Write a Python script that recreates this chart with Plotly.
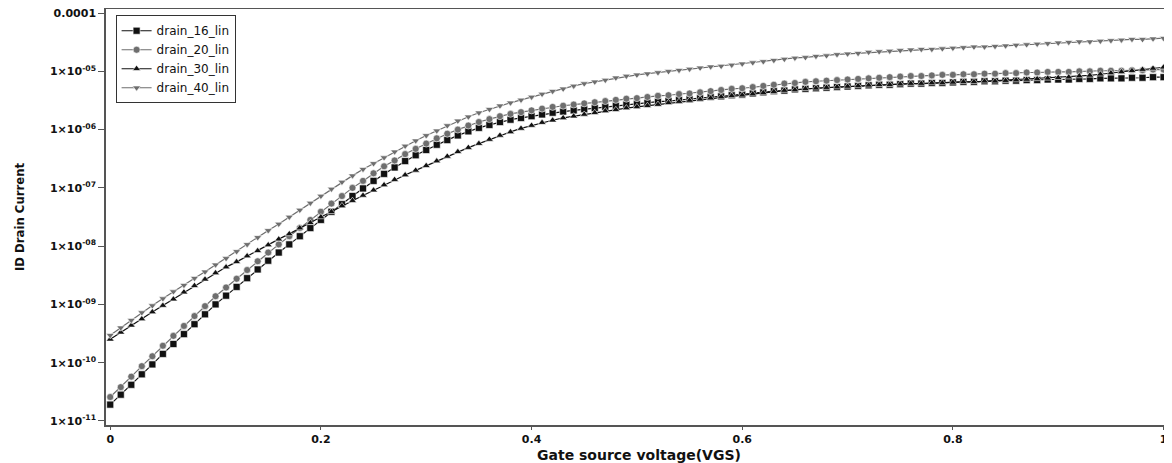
import plotly.graph_objects as go

# Gate-source voltage sweep (V)
vgs = [0.00, 0.01, 0.02, 0.03, 0.04, 0.05, 0.06, 0.07, 0.08, 0.09,
       0.10, 0.11, 0.12, 0.13, 0.14, 0.15, 0.16, 0.17, 0.18, 0.19,
       0.20, 0.21, 0.22, 0.23, 0.24, 0.25, 0.26, 0.27, 0.28, 0.29,
       0.30, 0.31, 0.32, 0.33, 0.34, 0.35, 0.36, 0.37, 0.38, 0.39,
       0.40, 0.41, 0.42, 0.43, 0.44, 0.45, 0.46, 0.47, 0.48, 0.49,
       0.50, 0.51, 0.52, 0.53, 0.54, 0.55, 0.56, 0.57, 0.58, 0.59,
       0.60, 0.61, 0.62, 0.63, 0.64, 0.65, 0.66, 0.67, 0.68, 0.69,
       0.70, 0.71, 0.72, 0.73, 0.74, 0.75, 0.76, 0.77, 0.78, 0.79,
       0.80, 0.81, 0.82, 0.83, 0.84, 0.85, 0.86, 0.87, 0.88, 0.89,
       0.90, 0.91, 0.92, 0.93, 0.94, 0.95, 0.96, 0.97, 0.98, 0.99, 1.00]

# Drain current as log10(ID [A])
log_id_drain_16 = [-10.72, -10.55, -10.38, -10.20, -10.03, -9.85, -9.68, -9.51, -9.34, -9.17,
                   -9.00, -8.85, -8.70, -8.55, -8.40, -8.25, -8.11, -7.97, -7.83, -7.69,
                   -7.55, -7.41, -7.28, -7.14, -7.01, -6.88, -6.76, -6.65, -6.54, -6.44,
                   -6.35, -6.26, -6.18, -6.10, -6.03, -5.97, -5.92, -5.87, -5.83, -5.80,
                   -5.77, -5.74, -5.71, -5.69, -5.67, -5.65, -5.63, -5.61, -5.59, -5.57,
                   -5.56, -5.54, -5.52, -5.51, -5.49, -5.48, -5.46, -5.44, -5.43, -5.41,
                   -5.40, -5.38, -5.36, -5.34, -5.33, -5.31, -5.30, -5.29, -5.28, -5.27,
                   -5.26, -5.25, -5.24, -5.23, -5.23, -5.22, -5.21, -5.21, -5.20, -5.20,
                   -5.19, -5.18, -5.18, -5.17, -5.17, -5.16, -5.16, -5.15, -5.15, -5.14,
                   -5.14, -5.14, -5.13, -5.13, -5.12, -5.12, -5.12, -5.11, -5.11, -5.10, -5.10]

log_id_drain_20 = [-10.59, -10.42, -10.24, -10.06, -9.89, -9.71, -9.54, -9.37, -9.20, -9.03,
                   -8.86, -8.71, -8.56, -8.41, -8.26, -8.11, -7.97, -7.83, -7.69, -7.55,
                   -7.41, -7.27, -7.14, -7.00, -6.88, -6.75, -6.63, -6.53, -6.42, -6.33,
                   -6.24, -6.15, -6.07, -6.00, -5.93, -5.87, -5.82, -5.77, -5.73, -5.70,
                   -5.67, -5.64, -5.61, -5.59, -5.57, -5.55, -5.53, -5.51, -5.49, -5.47,
                   -5.46, -5.44, -5.42, -5.41, -5.39, -5.38, -5.36, -5.34, -5.32, -5.30,
                   -5.29, -5.27, -5.25, -5.23, -5.21, -5.20, -5.18, -5.17, -5.16, -5.15,
                   -5.14, -5.13, -5.12, -5.11, -5.10, -5.09, -5.08, -5.08, -5.07, -5.06,
                   -5.06, -5.05, -5.05, -5.04, -5.04, -5.03, -5.03, -5.02, -5.02, -5.01,
                   -5.01, -5.01, -5.00, -5.00, -4.99, -4.99, -4.99, -4.98, -4.98, -4.97, -4.97]

log_id_drain_30 = [-9.60, -9.48, -9.36, -9.25, -9.13, -9.02, -8.91, -8.79, -8.68, -8.57,
                   -8.46, -8.36, -8.27, -8.17, -8.08, -7.98, -7.88, -7.79, -7.69, -7.60,
                   -7.50, -7.41, -7.31, -7.22, -7.13, -7.04, -6.95, -6.86, -6.78, -6.70,
                   -6.62, -6.54, -6.46, -6.38, -6.31, -6.24, -6.17, -6.10, -6.04, -5.98,
                   -5.93, -5.88, -5.84, -5.80, -5.77, -5.74, -5.71, -5.68, -5.66, -5.63,
                   -5.61, -5.59, -5.57, -5.54, -5.52, -5.50, -5.48, -5.46, -5.44, -5.42,
                   -5.41, -5.39, -5.37, -5.35, -5.33, -5.32, -5.30, -5.29, -5.28, -5.27,
                   -5.26, -5.25, -5.24, -5.23, -5.23, -5.22, -5.21, -5.21, -5.20, -5.20,
                   -5.19, -5.18, -5.18, -5.17, -5.17, -5.16, -5.15, -5.14, -5.13, -5.12,
                   -5.11, -5.10, -5.08, -5.07, -5.05, -5.03, -5.01, -4.99, -4.97, -4.95, -4.93]

log_id_drain_40 = [-9.53, -9.40, -9.27, -9.14, -9.02, -8.90, -8.78, -8.67, -8.55, -8.44,
                   -8.32, -8.21, -8.09, -7.97, -7.85, -7.73, -7.62, -7.50, -7.38, -7.26,
                   -7.14, -7.02, -6.90, -6.79, -6.68, -6.58, -6.48, -6.38, -6.28, -6.19,
                   -6.10, -6.02, -5.93, -5.85, -5.78, -5.71, -5.65, -5.59, -5.54, -5.49,
                   -5.44, -5.39, -5.34, -5.30, -5.25, -5.21, -5.18, -5.15, -5.11, -5.08,
                   -5.06, -5.04, -5.02, -5.00, -4.98, -4.96, -4.94, -4.92, -4.91, -4.89,
                   -4.87, -4.85, -4.83, -4.81, -4.79, -4.77, -4.76, -4.74, -4.73, -4.71,
                   -4.70, -4.69, -4.67, -4.66, -4.65, -4.64, -4.63, -4.62, -4.62, -4.61,
                   -4.60, -4.59, -4.58, -4.58, -4.57, -4.56, -4.55, -4.54, -4.53, -4.52,
                   -4.51, -4.50, -4.49, -4.49, -4.48, -4.47, -4.46, -4.45, -4.45, -4.44, -4.43]

series_names = ["drain_16_lin", "drain_20_lin", "drain_30_lin", "drain_40_lin"]

y_tick_values = [1e-11, 1e-10, 1e-9, 1e-8, 1e-7, 1e-6, 1e-5, 1e-4]
y_tick_labels = ["<b>1×10<sup>-11</sup></b>", "<b>1×10<sup>-10</sup></b>", "<b>1×10<sup>-09</sup></b>",
                 "<b>1×10<sup>-08</sup></b>", "<b>1×10<sup>-07</sup></b>", "<b>1×10<sup>-06</sup></b>",
                 "<b>1×10<sup>-05</sup></b>", "<b>0.0001</b>"]
x_tick_values = [0, 0.2, 0.4, 0.6, 0.8, 1]
x_tick_labels = ["<b>0</b>", "<b>0.2</b>", "<b>0.4</b>", "<b>0.6</b>", "<b>0.8</b>", "<b>1</b>"]
x_title = "<b>Gate source voltage(VGS)</b>"
y_title = "<b>ID Drain Current</b>"

styles = [
    dict(symbol="square", color="#111111", line="#111111"),
    dict(symbol="circle", color="#6e6e6e", line="#6e6e6e"),
    dict(symbol="triangle-up", color="#111111", line="#111111"),
    dict(symbol="triangle-down", color="#6e6e6e", line="#6e6e6e"),
]
all_logs = [log_id_drain_16, log_id_drain_20, log_id_drain_30, log_id_drain_40]

fig = go.Figure()
for name, logs, st in zip(series_names, all_logs, styles):
    fig.add_trace(go.Scatter(
        x=vgs, y=[10 ** v for v in logs], name=name, mode="lines+markers",
        line=dict(color=st["line"], width=1.2),
        marker=dict(symbol=st["symbol"], color=st["color"], size=7,
                    line=dict(color="white", width=0.6)),
    ))

# page body has an 8px default margin: figure origin sits at (8, 8) in the window
fig.update_layout(
    width=1164, height=455,
    margin=dict(l=98, r=0, t=1, b=38, autoexpand=False),
    paper_bgcolor="white", plot_bgcolor="white",
    font=dict(family="DejaVu Sans", color="#111111"),
    showlegend=True,
    legend=dict(x=0.009, y=0.985, xanchor="left", yanchor="top",
                bgcolor="white", bordercolor="#333333", borderwidth=1,
                font=dict(size=12, family="DejaVu Sans"),
                tracegroupgap=0, itemwidth=30),
    annotations=[
        dict(text=x_title, xref="paper", yref="paper", x=0.5, y=0,
             xanchor="center", yanchor="middle", yshift=-30, showarrow=False,
             font=dict(size=14, family="DejaVu Sans", color="#111111")),
    ],
)
fig.update_xaxes(
    range=[-0.004, 1.008], showgrid=False, zeroline=False, automargin=False,
    showline=True, linecolor="#555555", linewidth=1.5, mirror=True,
    ticks="outside", ticklen=3, tickcolor="#555555",
    tickvals=x_tick_values, ticktext=x_tick_labels,
    tickfont=dict(size=11, family="DejaVu Sans"),
)
fig.update_yaxes(
    type="log", range=[-11.07, -3.93], showgrid=False, zeroline=False, automargin=False,
    showline=True, linecolor="#555555", linewidth=1.5,
    ticks="outside", ticklen=6, tickcolor="#555555",
    tickvals=y_tick_values, ticktext=y_tick_labels,
    tickfont=dict(size=11, family="DejaVu Sans"), ticklabeloverflow="allow",
    title=dict(text=y_title,
               font=dict(size=13, family="DejaVu Sans Condensed"), standoff=22),
)

fig.write_html("out.html")
